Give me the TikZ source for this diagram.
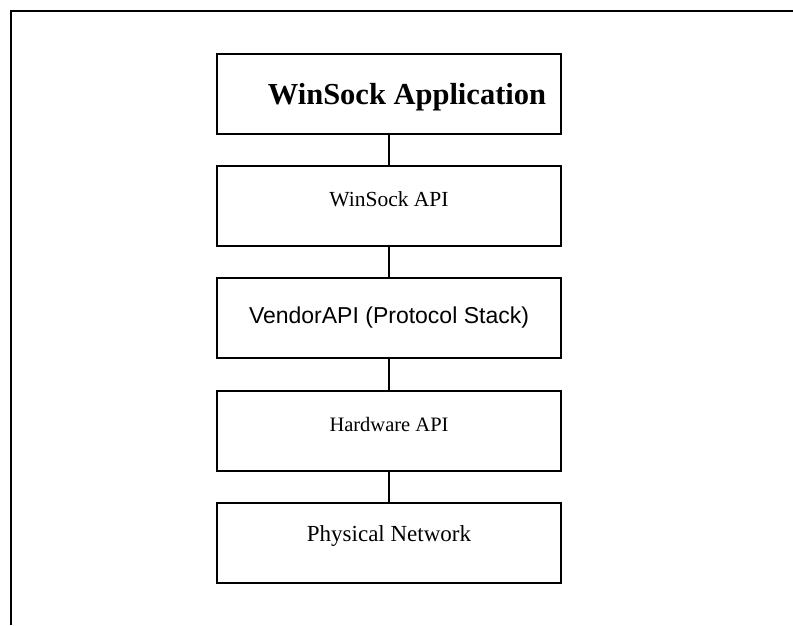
\documentclass[tikz,border=0pt]{standalone}
\usepackage{fontspec}
\setmainfont{Liberation Serif}
\newfontfamily\arialfont{Liberation Sans}
\begin{document}
\begin{tikzpicture}[x=1pt,y=-1pt,
  layer/.style={draw=black,line width=2pt,minimum width=344pt,minimum height=80pt,inner sep=0pt,anchor=north},
  lbl/.style={anchor=center,inner sep=0pt},
  link/.style={draw=black,line width=1.6pt},
  frame/.style={draw=black,line width=2pt}]
\useasboundingbox (0,0) rectangle (793,625);
\draw[frame] (11,625) -- (11,11) -- (793,11);
\node[layer] (app) at (389,53) {};
\node[layer] (wsapi) at (389,165) {};
\node[layer] (vendor) at (389,277) {};
\node[layer] (hw) at (389,390) {};
\node[layer] (phys) at (389,502) {};
\node[lbl,font=\fontsize{30.5}{33}\selectfont\bfseries,xshift=18pt,yshift=-3pt] (appt) at (app.center) {WinSock Application};
\node[lbl,font=\fontsize{21.5}{24}\selectfont,yshift=7pt] (wsapit) at (wsapi.center) {WinSock API};
\node[lbl,font=\arialfont\fontsize{23}{26}\selectfont] (vendort) at (vendor.center) {VendorAPI (Protocol Stack)};
\node[lbl,font=\fontsize{20.5}{23}\selectfont,yshift=7pt] (hwt) at (hw.center) {Hardware API};
\node[lbl,font=\fontsize{23}{26}\selectfont,yshift=7pt] (physt) at (phys.center) {Physical Network};
\draw[link] (app) -- (wsapi);
\draw[link] (wsapi) -- (vendor);
\draw[link] (vendor) -- (hw);
\draw[link] (hw) -- (phys);
\end{tikzpicture}
\end{document}
